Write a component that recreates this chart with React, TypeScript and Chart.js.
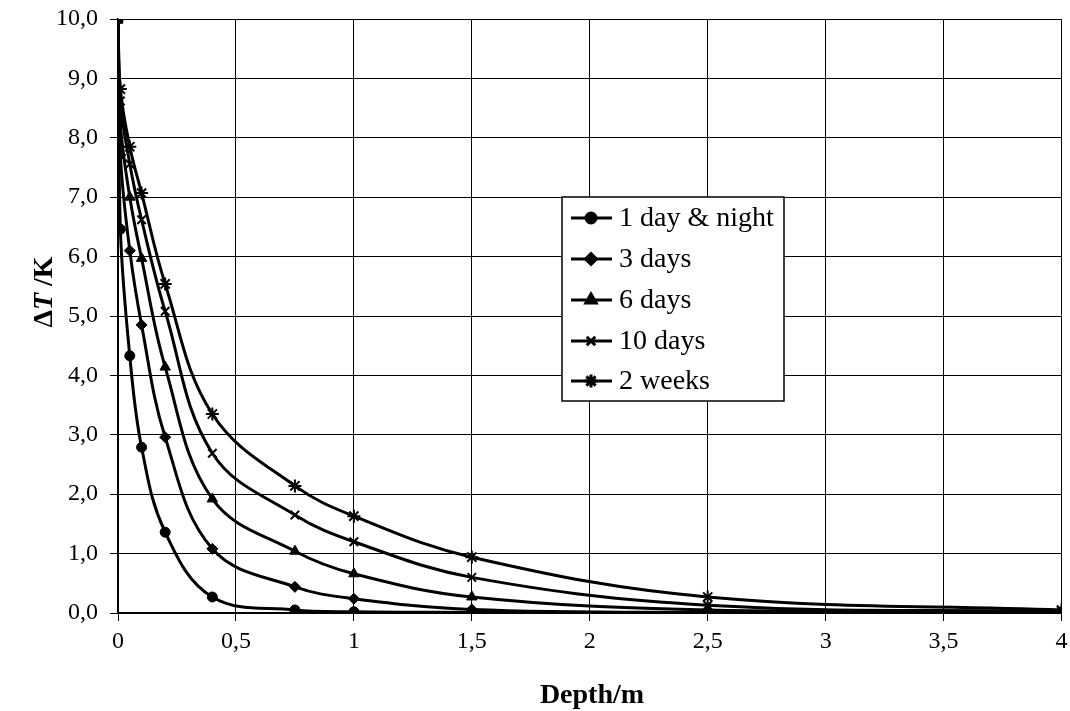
import React, { useEffect, useRef } from "react";
import { Chart, registerables } from "chart.js";
import { drawPoint } from "chart.js/helpers";

Chart.register(...registerables);

const depths = [0, 0.01, 0.05, 0.1, 0.2, 0.4, 0.75, 1, 1.5, 2.5, 4];
const seriesNames = ["1 day & night", "3 days", "6 days", "10 days", "2 weeks"];
const day1 = [10, 6.46, 4.33, 2.79, 1.36, 0.27, 0.05, 0.02, 0.01, 0.0, 0.0];
const days3 = [10, 7.71, 6.1, 4.85, 2.96, 1.08, 0.44, 0.24, 0.06, 0.01, 0.01];
const days6 = [10, 8.25, 7.0, 5.97, 4.14, 1.92, 1.04, 0.66, 0.27, 0.05, 0.02];
const days10 = [10, 8.62, 7.56, 6.62, 5.08, 2.69, 1.65, 1.2, 0.6, 0.13, 0.03];
const weeks2 = [10, 8.82, 7.85, 7.07, 5.54, 3.35, 2.14, 1.63, 0.94, 0.27, 0.05];
const seriesValues = [day1, days3, days6, days10, weeks2];
const pointStyles = ["circle", "rectRot", "triangle", "crossRot", "star"];
const pointRadii = [5, 5.5, 6, 6, 6.5];
const xTickValues = [0, 0.5, 1, 1.5, 2, 2.5, 3, 3.5, 4];
const yTickValues = [0, 1, 2, 3, 4, 5, 6, 7, 8, 9, 10];
const xTitle = "Depth/m";

const FONT = '"Liberation Serif", "Times New Roman", serif';

const overlayPlugin = {
  id: "overlay",
  afterDraw(chart: any) {
    const ctx = chart.ctx;
    ctx.save();
    // Legend
    const bx = 562, by = 197, bw = 222, bh = 204;
    ctx.fillStyle = "#fff";
    ctx.fillRect(bx, by, bw, bh);
    ctx.strokeStyle = "#000";
    ctx.lineWidth = 1.5;
    ctx.strokeRect(bx, by, bw, bh);
    const rowY = [218, 259, 300, 341, 381];
    ctx.font = `28px ${FONT}`;
    ctx.textBaseline = "middle";
    ctx.textAlign = "left";
    seriesNames.forEach((name, i) => {
      const y = rowY[i];
      ctx.strokeStyle = "#000";
      ctx.lineWidth = 3;
      ctx.beginPath();
      ctx.moveTo(571, y);
      ctx.lineTo(612, y);
      ctx.stroke();
      ctx.fillStyle = "#000";
      drawPoint(
        ctx,
        {
          pointStyle: pointStyles[i],
          radius: pointRadii[i],
          rotation: 0,
          borderWidth: i >= 3 ? 2 : 1,
        } as any,
        591,
        y
      );
      ctx.fillStyle = "#000";
      ctx.fillText(name, 619, y + 1);
    });

    // X title
    ctx.font = `bold 28px ${FONT}`;
    ctx.textAlign = "center";
    ctx.textBaseline = "alphabetic";
    ctx.fillStyle = "#000";
    ctx.fillText(xTitle, 592, 703);

    // Y title (rotated) with italic T
    ctx.translate(52, 292);
    ctx.rotate(-Math.PI / 2);
    const parts = [
      { t: "\u0394", f: `bold 28px ${FONT}` },
      { t: "T", f: `italic bold 28px ${FONT}` },
      { t: " /K", f: `bold 28px ${FONT}` },
    ];
    let total = 0;
    parts.forEach((p) => {
      ctx.font = p.f;
      total += ctx.measureText(p.t).width;
    });
    let x = -total / 2;
    ctx.textAlign = "left";
    parts.forEach((p) => {
      ctx.font = p.f;
      ctx.fillText(p.t, x, 0);
      x += ctx.measureText(p.t).width;
    });
    ctx.restore();
  },
};

export default function App() {
  const canvasRef = useRef<HTMLCanvasElement | null>(null);

  useEffect(() => {
    let chart: Chart | null = null;
    let cancelled = false;
    const build = () => {
      if (cancelled || !canvasRef.current) return;
      const datasets = seriesNames.map((name, i) => ({
        label: name,
        data: depths.map((d, j) => ({ x: d, y: seriesValues[i][j] })),
        borderColor: "#000",
        backgroundColor: "#000",
        borderWidth: 3,
        pointStyle: pointStyles[i],
        pointRadius: pointRadii[i],
        pointBorderWidth: i >= 3 ? 2 : 1,
        pointBackgroundColor: "#000",
        pointBorderColor: "#000",
        tension: 0.38,
        fill: false,
      }));
      chart = new Chart(canvasRef.current, {
        type: "line",
        data: { datasets },
        plugins: [overlayPlugin],
        options: {
          animation: false,
          responsive: false,
          layout: { padding: { left: 0, right: 3, top: 19, bottom: 0 } },
          plugins: {
            legend: { display: false },
            tooltip: { enabled: false },
          },
          scales: {
            x: {
              type: "linear",
              min: 0,
              max: 4,
              afterFit: (s: any) => {
                s.height = 98;
                s.paddingLeft = 0;
                s.paddingRight = 0;
              },
              afterBuildTicks: (s: any) => {
                s.ticks = xTickValues.map((v) => ({ value: v }));
              },
              ticks: {
                color: "#000",
                font: { family: FONT, size: 24 },
                padding: 6,
                maxRotation: 0,
                callback: (v: any) => String(v).replace(".", ","),
              },
              grid: {
                color: "#000",
                lineWidth: 1,
                tickLength: 8,
                tickColor: "#000",
              },
              border: { color: "#000", width: 1.5 },
            },
            y: {
              type: "linear",
              min: 0,
              max: 10,
              afterFit: (s: any) => {
                s.width = 118;
                s.paddingTop = 0;
                s.paddingBottom = 0;
              },
              afterBuildTicks: (s: any) => {
                s.ticks = yTickValues.map((v) => ({ value: v }));
              },
              ticks: {
                color: "#000",
                font: { family: FONT, size: 24 },
                padding: 12,
                callback: (v: any) => Number(v).toFixed(1).replace(".", ","),
              },
              grid: {
                color: "#000",
                lineWidth: 1,
                tickLength: 8,
                tickColor: "#000",
              },
              border: { color: "#000", width: 1.5 },
            },
          },
        },
      });
    };
    if ((document as any).fonts && (document as any).fonts.load) {
      Promise.all([
        document.fonts.load(`24px "Liberation Serif"`),
        document.fonts.load(`bold 28px "Liberation Serif"`),
        document.fonts.load(`italic bold 28px "Liberation Serif"`),
      ])
        .catch(() => {})
        .then(build);
    } else {
      build();
    }
    return () => {
      cancelled = true;
      if (chart) chart.destroy();
    };
  }, []);

  return (
    <div style={{ position: "absolute", left: 0, top: 0, width: 1070, height: 711, background: "#fff" }}>
      <canvas ref={canvasRef} width={1070} height={711} style={{ display: "block" }} />
    </div>
  );
}
